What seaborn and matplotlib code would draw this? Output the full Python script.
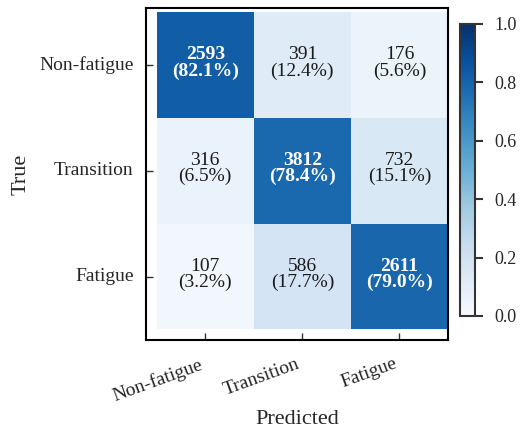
import numpy as np
import pandas as pd
import matplotlib
matplotlib.use("Agg")
import matplotlib.pyplot as plt
import matplotlib.transforms as mtransforms
import seaborn as sns

classes = ["Non-fatigue", "Transition", "Fatigue"]
counts_nonfatigue = [2593, 391, 176]
counts_transition = [316, 3812, 732]
counts_fatigue = [107, 586, 2611]
pct_nonfatigue = [82.1, 12.4, 5.6]
pct_transition = [6.5, 78.4, 15.1]
pct_fatigue = [3.2, 17.7, 79.0]
cbar_ticks = [0.0, 0.2, 0.4, 0.6, 0.8, 1.0]

sns.set_style("white")
plt.rcParams["font.family"] = ["Liberation Serif", "DejaVu Serif"]

counts = np.array([counts_nonfatigue, counts_transition, counts_fatigue])
pcts = np.array([pct_nonfatigue, pct_transition, pct_fatigue])
norm = pd.DataFrame(pcts / 100.0, index=classes, columns=classes)
labels = np.array([[f"{c}\n({p:.1f}%)" for c, p in zip(rc, rp)]
                   for rc, rp in zip(counts, pcts)])

fig = plt.figure(figsize=(5.23, 4.30), dpi=100)
ax = fig.add_axes([146 / 523, 1 - 340 / 430, 302 / 523, 332 / 430])
cax = fig.add_axes([460 / 523, 1 - 316 / 430, 15 / 523, 292 / 430])

sns.heatmap(norm, ax=ax, cbar_ax=cax, cmap="Blues", vmin=0, vmax=1,
            annot=labels, fmt="", square=False,
            annot_kws={"fontsize": 14})

# bold white text on the dark diagonal cells, dark text elsewhere
for t in ax.texts:
    if sum(matplotlib.colors.to_rgb(t.get_color())) > 2.5:
        t.set_color("white")
        t.set_fontweight("bold")
    else:
        t.set_color("#1a1a1a")
    t.set_linespacing(0.92)
    x, y = t.get_position()
    t.set_position((x, y - 0.02))

ax.set_xlim(-0.11, 3.0)
ax.set_ylim(3.1, -0.04)
for side in ax.spines.values():
    side.set_visible(True)
    side.set_color("black")
    side.set_linewidth(1.5)

ax.tick_params(axis="both", which="both", length=5, width=1, color="#333333",
               direction="in", labelsize=14, bottom=True, left=True, pad=9)
ax.set_xticklabels(classes, rotation=20, ha="right", rotation_mode="anchor")
ax.set_yticklabels(classes, rotation=0)
shift = mtransforms.ScaledTranslation(-6 / 100, -3 / 100, fig.dpi_scale_trans)
for lbl in ax.get_xticklabels():
    lbl.set_transform(lbl.get_transform() + shift)
ax.set_xlabel("Predicted", fontsize=16, labelpad=4)
ax.set_ylabel("True", fontsize=16, labelpad=6)

cbar = ax.collections[0].colorbar
cbar.set_ticks(cbar_ticks)
cbar.ax.yaxis.set_tick_params(labelsize=13, length=6, width=1.5,
                              color="#333333", pad=8, right=True,
                              direction="out")
cbar.outline.set_visible(True)
cbar.outline.set_edgecolor("#333333")
cbar.outline.set_linewidth(1.5)

fig.savefig("out.png", dpi=100)
